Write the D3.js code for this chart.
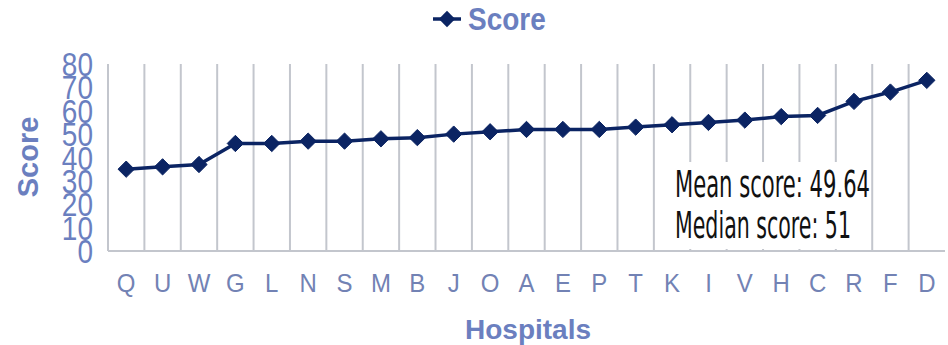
<!DOCTYPE html>
<html>
<head>
<meta charset="utf-8">
<script src="https://cdn.jsdelivr.net/npm/d3@7"></script>
<style>
  body { margin: 0; background: #fff; }
  svg { display: block; }
</style>
</head>
<body>
<div id="chart"></div>
<script>
const hospitals = ['Q','U','W','G','L','N','S','M','B','J','O','A','E','P','T','K','I','V','H','C','R','F','D'];
const scores = [35, 36, 37, 46, 46, 47, 47, 48, 48.5, 50, 51, 52, 52, 52, 53, 54, 55, 56, 57.5, 58, 64, 68, 73];
const yTicks = [0, 10, 20, 30, 40, 50, 60, 70, 80];
const statLines = ['Mean score: 49.64', 'Median score: 51'];

const W = 948, H = 345;
const PLOT = { left: 108, right: 945, top: 64, bottom: 251 };
const LABEL_COLOR = '#6b7fbf';
const GRID_COLOR = '#c3c6cd';
const LINE_COLOR = '#0b2463';

const svg = d3.select('#chart')
  .append('svg')
  .attr('width', W)
  .attr('height', H);

let x = d3.scaleBand()
  .domain(hospitals)
  .range([PLOT.left, PLOT.right])
  .padding(0);

let y = d3.scaleLinear()
  .domain([0, 80])
  .range([PLOT.bottom, PLOT.top]);

// vertical gridlines between categories
svg.append('g')
  .selectAll('line')
  .data(hospitals.slice(1))
  .join('line')
  .attr('x1', d => x(d))
  .attr('x2', d => x(d))
  .attr('y1', PLOT.top)
  .attr('y2', PLOT.bottom)
  .style('stroke', GRID_COLOR)
  .style('stroke-width', 2);

// axis lines
svg.append('line')
  .attr('x1', PLOT.left).attr('x2', PLOT.left)
  .attr('y1', PLOT.top).attr('y2', PLOT.bottom)
  .style('stroke', GRID_COLOR).style('stroke-width', 2);
svg.append('line')
  .attr('x1', PLOT.left).attr('x2', PLOT.right)
  .attr('y1', PLOT.bottom).attr('y2', PLOT.bottom)
  .style('stroke', GRID_COLOR).style('stroke-width', 2);

// y tick labels (tall, crowded like the original)
svg.append('g')
  .selectAll('text')
  .data(yTicks)
  .join('text')
  .attr('transform', d => 'translate(93,' + y(d) + ') scale(1,1.2)')
  .attr('dy', '0.36em')
  .style('text-anchor', 'end')
  .style('font-family', 'Liberation Sans, Arial, sans-serif')
  .style('font-size', '28px')
  .style('fill', LABEL_COLOR)
  .text(d => d);

// x tick labels
svg.append('g')
  .selectAll('text')
  .data(hospitals)
  .join('text')
  .attr('transform', d => 'translate(' + (x(d) + x.bandwidth() / 2) + ',292) scale(1,1.1)')
  .style('text-anchor', 'middle')
  .style('font-family', 'Liberation Sans, Arial, sans-serif')
  .style('font-size', '24px')
  .style('fill', '#7282b4')
  .text(d => d);

// axis titles
svg.append('text')
  .attr('transform', 'translate(38,157) rotate(-90)')
  .style('text-anchor', 'middle')
  .style('font-family', 'Liberation Sans, Arial, sans-serif')
  .style('font-weight', 'bold')
  .style('font-size', '29px')
  .style('fill', LABEL_COLOR)
  .text('Score');

svg.append('text')
  .attr('x', 528)
  .attr('y', 339)
  .style('text-anchor', 'middle')
  .style('font-family', 'Liberation Sans, Arial, sans-serif')
  .style('font-weight', 'bold')
  .style('font-size', '28px')
  .style('fill', LABEL_COLOR)
  .text('Hospitals');

// line + diamond markers
const line = d3.line()
  .x((d, i) => x(hospitals[i]) + x.bandwidth() / 2)
  .y(d => y(d));

svg.append('path')
  .datum(scores)
  .attr('d', line)
  .style('fill', 'none')
  .style('stroke', LINE_COLOR)
  .style('stroke-width', 3.5);

const diamond = d3.symbol().type(d3.symbolDiamond2).size(170);

svg.append('g')
  .selectAll('path')
  .data(scores)
  .join('path')
  .attr('transform', (d, i) => 'translate(' + (x(hospitals[i]) + x.bandwidth() / 2) + ',' + y(d) + ')')
  .attr('d', diamond)
  .style('fill', LINE_COLOR)
  .style('stroke', LINE_COLOR)
  .style('stroke-width', 1);

// legend
const legend = svg.append('g').attr('transform', 'translate(447,19)');
legend.append('line')
  .attr('x1', -14).attr('x2', 14)
  .style('stroke', LINE_COLOR).style('stroke-width', 3.5);
legend.append('path')
  .attr('d', diamond)
  .style('fill', LINE_COLOR);
legend.append('text')
  .attr('x', 21)
  .attr('dy', '0.36em')
  .attr('transform', 'scale(1,1.1)')
  .style('font-family', 'Liberation Sans, Arial, sans-serif')
  .style('font-weight', 'bold')
  .style('font-size', '28px')
  .style('fill', LABEL_COLOR)
  .text('Score');

// stats box
svg.append('rect')
  .attr('x', 672)
  .attr('y', 162)
  .attr('width', 198)
  .attr('height', 87)
  .style('fill', '#fff');

const statWidths = [195, 176];
svg.append('g')
  .selectAll('text')
  .data(statLines)
  .join('text')
  .attr('x', 675)
  .attr('y', (d, i) => 197 + i * 41)
  .attr('textLength', (d, i) => statWidths[i])
  .attr('lengthAdjust', 'spacingAndGlyphs')
  .style('font-family', 'Liberation Sans Narrow, DejaVu Sans Condensed, sans-serif')
  .style('font-size', '38px')
  .style('fill', '#111')
  .text(d => d);
</script>
</body>
</html>
